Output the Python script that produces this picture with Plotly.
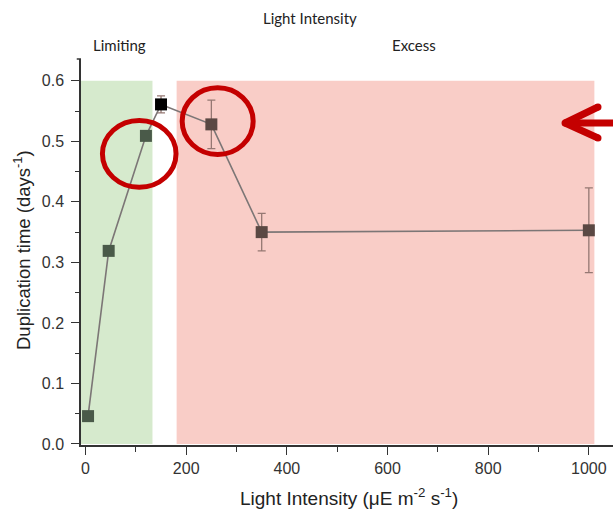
import plotly.graph_objects as go

# Data
light = [5, 46, 120, 150, 250, 350, 1000]
dup_time = [0.046, 0.319, 0.509, 0.561, 0.528, 0.350, 0.353]
dup_err = [0.0, 0.0, 0.0, 0.014, 0.040, 0.031, 0.070]
marker_colors = ["#4a5a49", "#4a5a49", "#4a5a49", "#000000", "#5a4843", "#5a4843", "#5a4843"]

limiting_range = [-9, 133]
excess_range = [181, 1011]
shade_top = 0.6

x_ticks = [0, 200, 400, 600, 800, 1000]
y_ticks = [0.0, 0.1, 0.2, 0.3, 0.4, 0.5, 0.6]

RED = "#c40000"

fig = go.Figure()

fig.add_trace(go.Scatter(
    x=light, y=dup_time,
    mode="lines+markers",
    line=dict(color="#7c7676", width=1.6),
    marker=dict(symbol="square", size=12, color=marker_colors, line=dict(width=0)),
    error_y=dict(type="data", array=dup_err, visible=True, color="#957873",
                 thickness=1.3, width=4),
    showlegend=False,
))

shapes = [
    dict(type="rect", xref="x", yref="y", x0=limiting_range[0], x1=limiting_range[1],
         y0=0, y1=shade_top, fillcolor="#d6eacd", line=dict(width=0), layer="below"),
    dict(type="rect", xref="x", yref="y", x0=excess_range[0], x1=excess_range[1],
         y0=0, y1=shade_top, fillcolor="#f9cdc7", line=dict(width=0), layer="below"),
    # red highlight circles anchored on data points
    dict(type="circle", xref="x", yref="y", xsizemode="pixel", ysizemode="pixel",
         xanchor=light[2], yanchor=dup_time[2], x0=-43.5, x1=30.1, y0=-51.4, y1=15.4,
         line=dict(color=RED, width=5), layer="above"),
    dict(type="circle", xref="x", yref="y", xsizemode="pixel", ysizemode="pixel",
         xanchor=light[4], yanchor=dup_time[4], x0=-29.2, x1=41.8, y0=-30.1, y1=36.5,
         line=dict(color=RED, width=5), layer="above"),
    # red arrow (shaft + two wings, drawn as separate strokes)
    dict(type="path", xref="paper", yref="paper",
         path="M 1.0,0.8342 L 0.9098,0.8342",
         line=dict(color=RED, width=7), layer="above"),
    dict(type="path", xref="paper", yref="paper",
         path="M 0.9718,0.8756 L 0.9098,0.8342",
         line=dict(color=RED, width=7), layer="above"),
    dict(type="path", xref="paper", yref="paper",
         path="M 0.9718,0.7953 L 0.9098,0.8342",
         line=dict(color=RED, width=7), layer="above"),
    dict(type="circle", xref="paper", yref="paper", xsizemode="pixel", ysizemode="pixel",
         xanchor=0.9098, yanchor=0.8342, x0=-3.5, x1=3.5, y0=-3.5, y1=3.5,
         fillcolor=RED, line=dict(width=0), layer="above"),
    dict(type="circle", xref="paper", yref="paper", xsizemode="pixel", ysizemode="pixel",
         xanchor=0.9718, yanchor=0.8756, x0=-3.5, x1=3.5, y0=-3.5, y1=3.5,
         fillcolor=RED, line=dict(width=0), layer="above"),
    dict(type="circle", xref="paper", yref="paper", xsizemode="pixel", ysizemode="pixel",
         xanchor=0.9718, yanchor=0.7953, x0=-3.5, x1=3.5, y0=-3.5, y1=3.5,
         fillcolor=RED, line=dict(width=0), layer="above"),
    # small stub at top of y axis
    dict(type="line", xref="paper", yref="paper", x0=-0.008, x1=0, y0=1, y1=1,
         line=dict(color="#333333", width=1.5)),
]

ann_font_top = dict(family="Lato", size=15, color="#222222")
ann_font_title = dict(family="Liberation Sans", size=19, color="#222222")

annotations = [
    dict(text="Light Intensity", xref="paper", yref="paper", x=0.430, y=1.106,
         xanchor="center", yanchor="middle", showarrow=False, font=ann_font_top),
    dict(text="Limiting", xref="paper", yref="paper", x=0.073, y=1.036,
         xanchor="center", yanchor="middle", showarrow=False, font=ann_font_top),
    dict(text="Excess", xref="paper", yref="paper", x=0.626, y=1.036,
         xanchor="center", yanchor="middle", showarrow=False, font=ann_font_top),
    dict(text="Duplication time (days<sup>-1</sup>)", xref="paper", yref="paper",
         x=-0.111, y=0.505, textangle=-90, xanchor="center", yanchor="middle",
         showarrow=False, font=dict(family="Liberation Sans", size=18.5, color="#222222")),
    dict(text="Light Intensity (\u03bcE m<sup>-2</sup> s<sup>-1</sup>)", xref="paper", yref="paper",
         x=0.504, y=-0.135, xanchor="center", yanchor="middle", showarrow=False,
         font=ann_font_title),
]

fig.update_layout(
    width=613, height=513,
    margin=dict(l=81, r=0, t=59, b=68),
    plot_bgcolor="white", paper_bgcolor="white",
    shapes=shapes, annotations=annotations,
    font=dict(family="Liberation Sans", size=16, color="#333333"),
    xaxis=dict(range=[-9, 1048], tickvals=x_ticks, ticktext=[str(v) for v in x_ticks],
               showgrid=False, zeroline=False, showline=True, linecolor="#333333", linewidth=1.5,
               ticks="outside", ticklen=8, tickwidth=1.3, tickcolor="#333333",
               minor=dict(dtick=100, tick0=0, ticks="outside", ticklen=5, tickwidth=1.3, tickcolor="#333333"),
               tickfont=dict(size=16, color="#333333")),
    yaxis=dict(range=[-0.0017, 0.636], tickvals=y_ticks, ticktext=[f"{v:.1f}" for v in y_ticks],
               showgrid=False, zeroline=False, showline=True, linecolor="#333333", linewidth=1.5,
               ticks="outside", ticklen=8, tickwidth=1.3, tickcolor="#333333",
               ticklabelstandoff=4,
               minor=dict(dtick=0.05, tick0=0, ticks="outside", ticklen=4, tickwidth=1.3, tickcolor="#333333"),
               tickfont=dict(size=16, color="#333333")),
)

fig.write_html("out.html")
